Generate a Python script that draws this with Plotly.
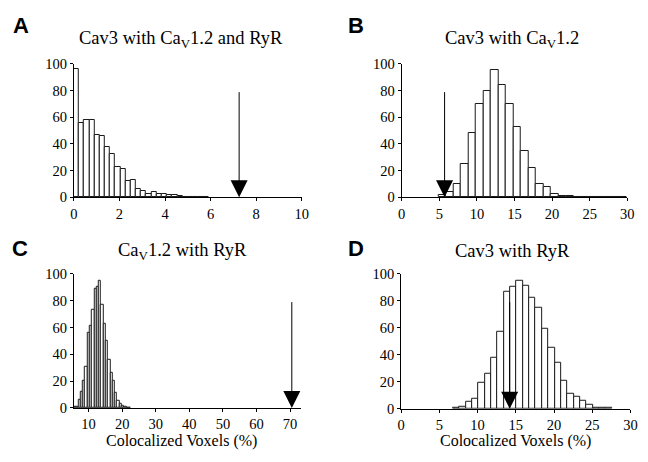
import plotly.graph_objects as go

W, H = 648, 462

# ---------------- data ----------------
# Panel A: Cav3 with CaV1.2 and RyR
a_bin_start = 0.0
a_bin_width = 0.227
a_counts = [96, 56, 58, 58, 46.5, 46, 37.5, 32.5, 23, 21, 12, 12.8, 6, 5, 2.4, 3.9,
            2.7, 2.4, 1.5, 1.4, 0.7, 0.5, 0.3, 0.2, 0.2, 0.1]
a_observed = 7.25

# Panel B: Cav3 with CaV1.2
b_bin_start = 4.87
b_bin_width = 1.0
b_counts = [2, 4, 10, 25, 48, 70, 79.5, 95.5, 84.5, 70, 52.5, 35, 22, 10, 7.7, 2.5,
            1.2, 1.2, 0.2, 0.2, 0.1, 0.1, 0.1, 0.1, 0.5]
b_observed = 5.7

# Panel C: CaV1.2 with RyR
c_bin_start = 5.6
c_bin_width = 0.68
c_counts = [1, 1, 6, 12, 20, 31, 56, 61, 73, 89, 90, 95, 77, 63, 50, 36, 26, 20, 11,
            5, 3, 1.5, 1, 0.5, 0.3]
c_observed = 70.5

# Panel D: Cav3 with RyR
d_bin_start = 6.8
d_bin_width = 0.83
d_counts = [0.5, 1.5, 5, 7, 19, 26, 38, 57, 87, 90, 95, 91, 82, 75, 59, 45, 34, 21,
            11, 9, 5.5, 3, 1, 0.5, 0.5]
d_observed = 14.2

arrow_top = 80

titles = ["Cav3 with Ca<sub>V</sub>1.2 and RyR", "Cav3 with Ca<sub>V</sub>1.2",
          "Ca<sub>V</sub>1.2 with RyR", "Cav3 with RyR"]
letters = ["A", "B", "C", "D"]
x_title = "Colocalized Voxels (%)"
y_ticks = [0, 20, 40, 60, 80, 100]

# ---------------- layout helpers ----------------
def px(x):
    return x / W

def py(y):
    return 1 - y / H

SERIF = "Liberation Serif"
SANS = "Liberation Sans"

panels = [
    dict(start=a_bin_start, width=a_bin_width, counts=a_counts, obs=a_observed,
         xr=[0, 10], xt=[0, 2, 4, 6, 8, 10], dom_x=(71, 303), dom_y=(58, 196),
         title_xy=(180, 33), letter_xy=(17, 18), xlabel=False),
    dict(start=b_bin_start, width=b_bin_width, counts=b_counts, obs=b_observed,
         xr=[0, 30], xt=[0, 5, 10, 15, 20, 25, 30], dom_x=(404.6, 634), dom_y=(58, 196),
         title_xy=(517, 33), letter_xy=(358, 18), xlabel=False),
    dict(start=c_bin_start, width=c_bin_width, counts=c_counts, obs=c_observed,
         xr=[5.6, 73.2], xt=[10, 20, 30, 40, 50, 60, 70], dom_x=(71, 302), dom_y=(275.3, 414.3),
         title_xy=(182, 252), letter_xy=(16, 249), xlabel=True, xlab_xy=(181, 448.5)),
    dict(start=d_bin_start, width=d_bin_width, counts=d_counts, obs=d_observed,
         xr=[0, 30], xt=[0, 5, 10, 15, 20, 25, 30], dom_x=(404, 637.3), dom_y=(275.3, 415),
         title_xy=(517, 252), letter_xy=(358, 249), xlabel=True, xlab_xy=(520, 449)),
]

fig = go.Figure()
annotations = []
layout_axes = {}

for i, p in enumerate(panels):
    n = "" if i == 0 else str(i + 1)
    xa, ya = "x" + n, "y" + n
    fig.add_trace(go.Bar(
        y=p["counts"], x0=p["start"] + p["width"] / 2, dx=p["width"], width=p["width"],
        marker=dict(color="white", line=dict(color="#1a1a1a", width=1)),
        xaxis=xa, yaxis=ya, showlegend=False, hoverinfo="skip"))

    axis_common = dict(showline=True, linecolor="black", linewidth=1, ticks="outside",
                       ticklen=3, tickcolor="black", tickwidth=1, showgrid=False,
                       zeroline=False,
                       tickfont=dict(family=SERIF, size=14.5, color="black"))
    layout_axes["xaxis" + n] = dict(axis_common, range=p["xr"], tickvals=p["xt"],
                                     domain=[px(p["dom_x"][0]), px(p["dom_x"][1])],
                                     anchor=ya)
    layout_axes["yaxis" + n] = dict(axis_common, range=[0, 100], tickvals=y_ticks,
                                     domain=[py(p["dom_y"][1]), py(p["dom_y"][0])],
                                     anchor=xa)

    annotations.append(dict(
        x=p["obs"], y=0, ax=p["obs"], ay=arrow_top, xref=xa, yref=ya, axref=xa, ayref=ya,
        showarrow=True, arrowhead=2, arrowsize=3.4, arrowwidth=1, arrowcolor="black",
        text=""))
    annotations.append(dict(
        x=px(p["title_xy"][0]), y=py(p["title_xy"][1]), xref="paper", yref="paper",
        text=titles[i], showarrow=False, xanchor="center", yanchor="middle",
        font=dict(family=SERIF, size=18.5, color="black")))
    annotations.append(dict(
        x=px(p["letter_xy"][0]), y=py(p["letter_xy"][1]), xref="paper", yref="paper",
        text="<b>" + letters[i] + "</b>", showarrow=False, xanchor="center",
        yanchor="middle", font=dict(family=SANS, size=22, color="black")))
    if p["xlabel"]:
        annotations.append(dict(
            x=px(p["xlab_xy"][0]), y=py(p["xlab_xy"][1]), xref="paper", yref="paper",
            text=x_title, showarrow=False, xanchor="center", yanchor="middle",
            font=dict(family=SERIF, size=16, color="black")))

fig.update_layout(
    width=W, height=H, margin=dict(l=0, r=0, t=0, b=0),
    paper_bgcolor="white", plot_bgcolor="white", bargap=0,
    annotations=annotations, **layout_axes)

fig.write_html("out.html", config={"displayModeBar": False},
               post_script="document.body.style.margin='0';"
                           "document.body.style.overflow='hidden';")
